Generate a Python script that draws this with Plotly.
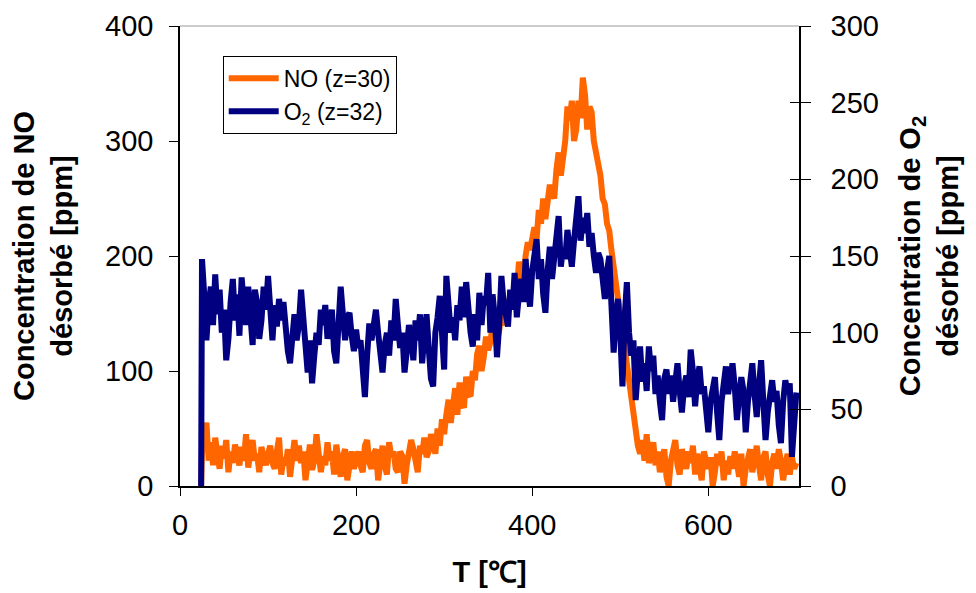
import plotly.graph_objects as go

temperature = [24,
    25, 27.5, 30, 32.5, 35, 37.5, 40, 42.5, 45, 47.5, 50, 52.5, 55, 57.5, 60, 62.5, 65, 67.5, 70, 72.5,
    75, 77.5, 80, 82.5, 85, 87.5, 90, 92.5, 95, 97.5, 100,
    102.5, 105, 107.5, 110, 112.5, 115, 117.5, 120, 122.5, 125, 127.5, 130, 132.5, 135, 137.5, 140, 142.5, 145, 147.5, 150,
    152.5, 155, 157.5, 160, 162.5, 165, 167.5, 170, 172.5, 175, 177.5, 180, 182.5, 185, 187.5, 190, 192.5, 195, 197.5, 200,
    202.5, 205, 207.5, 210, 212.5, 215, 217.5, 220, 222.5, 225, 227.5, 230, 232.5, 235, 237.5, 240, 242.5, 245, 247.5, 250,
    252.5, 255, 257.5, 260, 262.5, 265, 267.5, 270, 272.5, 275, 277.5, 280, 282.5, 285, 287.5, 290, 292.5, 295, 297.5, 300,
    302.5, 305, 307.5, 310, 312.5, 315, 317.5, 320, 322.5, 325, 327.5, 330, 332.5, 335, 337.5, 340, 342.5, 345, 347.5, 350,
    352.5, 355, 357.5, 360, 362.5, 365, 367.5, 370, 372.5, 375, 377.5, 380, 382.5, 385, 387.5, 390, 392.5, 395, 397.5, 400,
    402.5, 405, 407.5, 410, 412.5, 415, 417.5, 420, 422.5, 425, 427.5, 430, 432.5, 435, 437.5, 440, 442.5, 445, 447.5, 450,
    452.5, 455, 457.5, 460, 462.5, 465, 467.5, 470, 472.5, 475, 477.5, 480, 482.5, 485, 487.5, 490, 492.5, 495, 497.5, 500,
    502.5, 505, 507.5, 510, 512.5, 515, 517.5, 520, 522.5, 525, 527.5, 530, 532.5, 535, 537.5, 540, 542.5, 545, 547.5, 550,
    552.5, 555, 557.5, 560, 562.5, 565, 567.5, 570, 572.5, 575, 577.5, 580, 582.5, 585, 587.5, 590, 592.5, 595, 597.5, 600,
    602.5, 605, 607.5, 610, 612.5, 615, 617.5, 620, 622.5, 625, 627.5, 630, 632.5, 635, 637.5, 640, 642.5, 645, 647.5, 650,
    652.5, 655, 657.5, 660, 662.5, 665, 667.5, 670, 672.5, 675, 677.5, 680, 682.5, 685, 687.5, 690, 692.5, 695, 697.5, 700]

no_ppm = [0,
    30, 45, 55, 22, 38, 18, 42, 28, 15, 35, 24, 40, 12, 30, 20, 36, 26, 18, 34, 22,
    45, 16, 30, 40, 22, 28, 12, 34, 25, 18, 28,
    35, 20, 15, 30, 42, 10, 25, 18, 32, 8, 26, 40, 22, 35, 20, 30, 5, 28, 36, 14,
    22, 45, 30, 12, 26, 18, 38, 22, 30, 10, 36, 24, 8, 26, 32, 5, 20, 30, 15, 22,
    30, 18, 12, 35, 40, 20, 15, 28, 32, 5, 22, 35, 18, 10, 38, 25, 30, 15, 12, 30,
    26, 2, 18, 28, 40, 32, 20, 12, 35, 28, 42, 25, 30, 45, 38, 28, 50, 35, 58, 45,
    62, 75, 55, 70, 85, 62, 90, 72, 68, 95, 80, 78, 100, 92, 115, 122, 100, 112, 130, 118,
    125, 140, 148, 128, 135, 152, 145, 140, 158, 165, 160, 175, 170, 195, 185, 180, 200, 212, 205, 218,
    225, 215, 240, 228, 250, 232, 245, 262, 255, 250, 275, 290, 270, 285, 300, 330, 318, 335, 300, 310,
    335, 320, 355, 340, 310, 330, 325, 300, 290, 278, 270, 250, 245, 228, 222, 205, 190, 178, 165, 150,
    135, 120, 110, 90, 75, 58, 42, 35, 28, 40, 22, 45, 20, 28, 38, 18, 30, 12, 25, 32,
    8, 0, 22, 30, 40, 18, 10, 32, 25, 15, 30, 20, 35, 10, 28, 18, 5, 30, 22, 15,
    25, 0, 12, 28, 18, 30, 5, 22, 10, 26, 15, 30, 20, 8, 28, 0, 15, 25, 32, 12,
    22, 35, 18, 5, 25, 30, 10, 0, 20, 28, 15, 32, 22, 5, 18, 28, 10, 25, 15, 20]

o2_ppm = [0,
    148, 125, 95, 118, 130, 105, 138, 112, 128, 100, 115, 82, 96, 120, 135, 108, 125, 98, 136, 118,
    105, 130, 112, 92, 128, 120, 96, 108, 130, 115, 137,
    110, 95, 118, 104, 122, 108, 120, 96, 88, 80, 100, 112, 95, 105, 128, 112, 90, 74, 95, 67,
    85, 100, 92, 115, 105, 118, 96, 108, 115, 88, 80, 105, 130, 112, 95, 110, 113, 98, 88, 102,
    90, 95, 75, 58, 85, 106, 95, 110, 115, 100, 88, 74, 92, 100, 85, 108, 95, 122, 105, 90,
    100, 74, 88, 105, 96, 82, 108, 95, 112, 80, 98, 112, 90, 70, 65, 100, 110, 124, 100, 76,
    137, 115, 100, 110, 95, 118, 108, 130, 110, 133, 108, 100, 91, 112, 95, 126, 105, 124, 118, 139,
    100, 125, 110, 84, 105, 137, 120, 112, 104, 128, 115, 139, 110, 125, 135, 120, 148, 130, 117, 140,
    150, 161, 135, 148, 125, 113, 140, 156, 135, 150, 160, 176, 143, 155, 148, 167, 155, 143, 160, 172,
    189, 160, 175, 165, 178, 156, 165, 150, 139, 152, 148, 135, 122, 140, 150, 118, 87, 110, 122, 100,
    65, 110, 133, 100, 85, 95, 56, 75, 91, 68, 80, 62, 91, 75, 85, 60, 72, 55, 43, 70,
    76, 60, 72, 55, 68, 80, 62, 48, 65, 72, 58, 89, 75, 52, 70, 78, 60, 65, 50, 35,
    55, 62, 71, 48, 30, 55, 65, 78, 60, 72, 80, 65, 43, 58, 71, 62, 35, 55, 68, 80,
    60, 45, 65, 82, 55, 30, 48, 62, 69, 55, 62, 40, 28, 55, 69, 60, 67, 19, 45, 61]

x_ticks = [0, 200, 400, 600]
left_ticks = [0, 100, 200, 300, 400]
right_ticks = [0, 50, 100, 150, 200, 250, 300]

FONT = "Liberation Sans, Arial, sans-serif"

fig = go.Figure()
fig.add_trace(go.Scatter(x=temperature, y=no_ppm, mode="lines", name="NO (z=30)",
                         line=dict(color="#FF6600", width=6), yaxis="y"))
fig.add_trace(go.Scatter(x=temperature, y=o2_ppm, mode="lines", name="O<sub>2</sub> (z=32)",
                         line=dict(color="#000080", width=6), yaxis="y2"))
fig.add_trace(go.Scatter(x=[None], y=[None], yaxis="y3", showlegend=False, hoverinfo="skip"))

fig.update_layout(
    width=976, height=593,
    margin=dict(l=172, r=185, t=18, b=115, autoexpand=False),
    paper_bgcolor="white", plot_bgcolor="white",
    font=dict(family=FONT, size=29, color="black"),
    showlegend=True,
    legend=dict(x=0.069, y=0.935, xanchor="left", yanchor="top",
                bgcolor="white", bordercolor="black", borderwidth=1,
                font=dict(size=23), tracegroupgap=0, itemwidth=50),
    xaxis=dict(range=[0, 703], tickvals=x_ticks, showgrid=False, zeroline=False,
               showline=True, linecolor="black", linewidth=1.5, automargin=False,
               ticks="outside", ticklen=8, tickcolor="black",
               ticklabelstandoff=4,
               title=dict(text="<b>T [℃]</b>", font=dict(size=29), standoff=22)),
    yaxis=dict(range=[0, 400], tickvals=left_ticks, showgrid=False, zeroline=False,
               showline=True, linecolor="black", linewidth=1.5, automargin=False,
               ticks="outside", ticklen=9, tickcolor="black",
               ticklabelstandoff=10,
               title=dict(text="<b>Concentration de NO<br>désorbé [ppm]</b>",
                          font=dict(size=29), standoff=30)),
    yaxis2=dict(range=[0, 300], tickvals=right_ticks, overlaying="y", side="right",
                showgrid=False, zeroline=False, automargin=False,
                showline=True, linecolor="black", linewidth=1.5,
                ticks="outside", ticklen=10, tickcolor="black",
                ticklabelstandoff=14,
                title=dict(text="<b>Concentration de O<sub>2</sub><br>désorbé [ppm]</b>",
                           font=dict(size=29), standoff=22)),
    yaxis3=dict(range=[0, 300], tickvals=right_ticks, overlaying="y", side="right",
                showgrid=False, zeroline=False, showline=False, showticklabels=False,
                automargin=False, ticks="inside", ticklen=9, tickcolor="black"),
)
fig.add_shape(type="line", xref="paper", yref="paper", x0=0, x1=1, y0=1, y1=1,
              line=dict(color="#BBBBBB", width=1.5))

fig.write_html("out.html")
